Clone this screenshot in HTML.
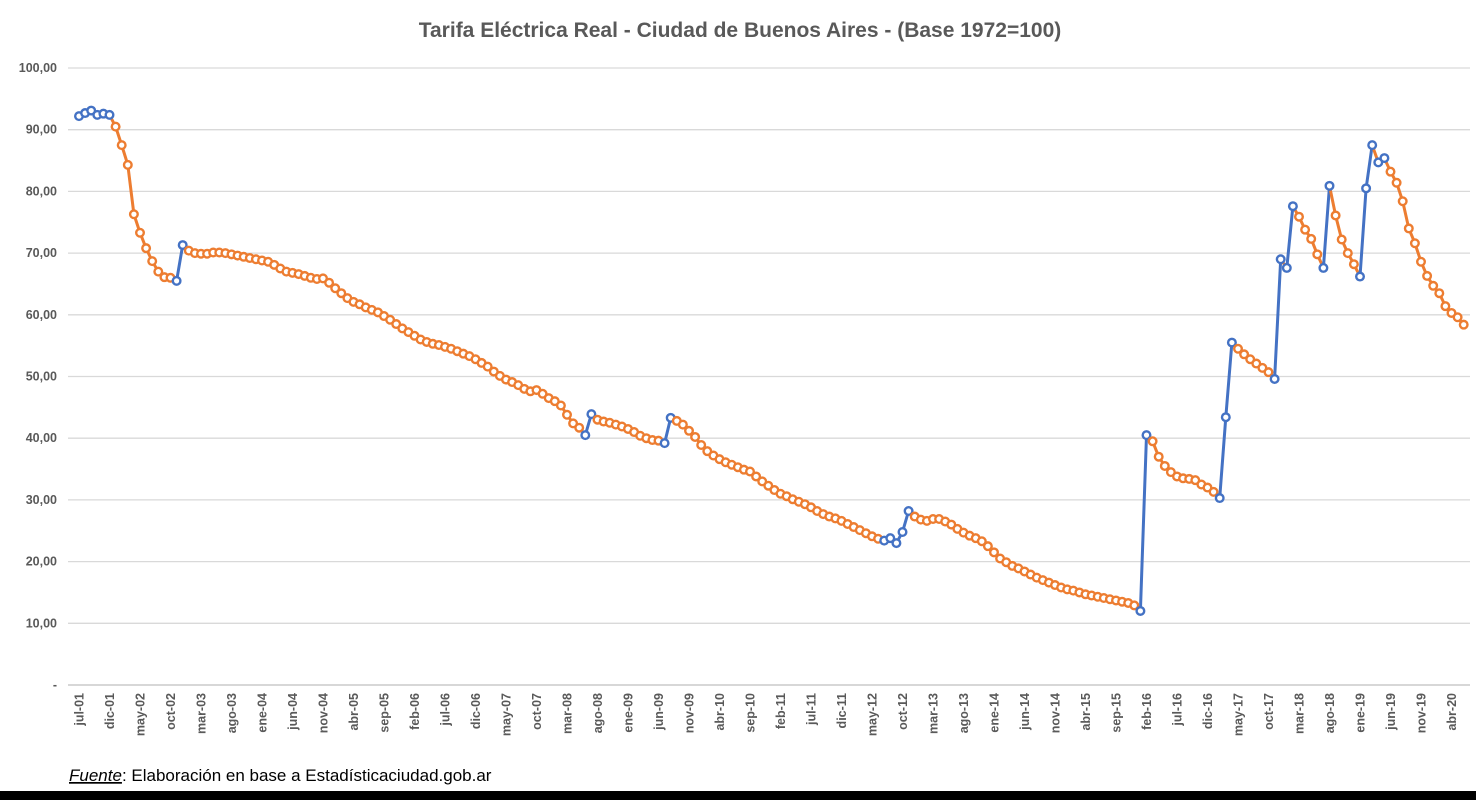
<!DOCTYPE html>
<html><head><meta charset="utf-8"><style>
body{margin:0;background:#fff;width:1476px;height:800px;overflow:hidden;font-family:"Liberation Sans",sans-serif}
svg{display:block}
</style></head><body>
<svg id="chart" width="1476" height="800" viewBox="0 0 1476 800">
<rect width="1476" height="800" fill="#fff"/>
<text x="740" y="37" text-anchor="middle" font-size="21" font-weight="bold" fill="#595959">Tarifa Eléctrica Real - Ciudad de Buenos Aires - (Base 1972=100)</text>
<g id="grid"></g>
<g id="yaxis"></g>
<g id="xaxis"></g>
<g id="lines"></g>
<g id="marks"></g>
<text x="69" y="781" font-size="17" fill="#000"><tspan font-style="italic" text-decoration="underline">Fuente</tspan>: Elaboración en base a Estadísticaciudad.gob.ar</text>
<rect x="0" y="791" width="1476" height="9" fill="#000"/>
</svg>
<script>
const yTicks=[0,10,20,30,40,50,60,70,80,90,100];
const yTickLabels=["-","10,00","20,00","30,00","40,00","50,00","60,00","70,00","80,00","90,00","100,00"];
const monthNames=["ene","feb","mar","abr","may","jun","jul","ago","sep","oct","nov","dic"];
const startYear=2001, startMonth=6;
const values=[
92.2,92.7,93.1,92.4,92.6,92.4,
90.5,87.5,84.3,76.3,73.3,70.8,68.7,67.0,66.1,66.0,65.5,71.3,
70.4,70.0,69.9,69.9,70.1,70.1,70.0,69.8,69.6,69.4,69.2,69.0,
68.8,68.6,68.1,67.5,67.0,66.8,66.6,66.3,66.0,65.8,65.9,65.2,
64.3,63.5,62.7,62.1,61.7,61.2,60.8,60.4,59.8,59.2,58.5,57.8,
57.2,56.6,56.0,55.6,55.3,55.1,54.8,54.5,54.1,53.7,53.3,52.8,
52.2,51.6,50.8,50.1,49.5,49.1,48.6,48.0,47.6,47.8,47.2,46.5,
46.0,45.3,43.8,42.4,41.7,40.5,43.9,43.0,42.7,42.5,42.2,41.9,
41.5,41.0,40.4,40.0,39.7,39.6,39.2,43.3,42.8,42.2,41.2,40.2,
38.9,37.9,37.2,36.6,36.1,35.7,35.3,34.9,34.6,33.8,33.0,32.3,
31.6,31.0,30.6,30.1,29.7,29.3,28.8,28.2,27.7,27.3,27.0,26.6,
26.1,25.6,25.1,24.6,24.1,23.7,23.4,
23.8,23.0,24.8,28.2,
27.3,26.8,26.6,26.9,26.9,26.5,26.0,25.3,24.7,24.2,23.8,23.3,22.5,
21.5,20.5,19.9,19.3,18.9,18.4,17.9,17.4,17.0,16.6,16.2,15.8,15.5,15.3,15.0,
14.7,14.5,14.3,14.1,13.9,13.7,13.5,13.3,12.9,12.0,40.5,
39.5,37.0,35.5,34.5,33.8,33.5,33.4,33.2,32.5,32.0,31.3,30.3,
43.4,55.5,54.5,53.6,52.8,52.1,51.4,50.7,49.6,
69.0,67.6,77.6,75.9,73.8,72.3,69.8,67.6,80.9,76.1,72.2,70.0,68.2,66.2,
80.5,87.5,84.7,85.4,83.2,81.4,78.4,74.0,71.6,68.6,66.3,64.7,63.5,61.4,60.3,59.6,58.4
];
const NS="http://www.w3.org/2000/svg";
const X0=79, DX=6.1, Y0=685, Y100=68, GX0=68, GX1=1470;
const xs=i=>X0+i*DX;
const ys=v=>Y0-(v/100)*(Y0-Y100);
const BLUE="#4472C4", ORANGE="#ED7D31";
function mk(tag,attrs){const e=document.createElementNS(NS,tag);for(const k in attrs)e.setAttribute(k,attrs[k]);return e;}
const grid=document.getElementById('grid'), yaxis=document.getElementById('yaxis');
yTicks.forEach((t,k)=>{
  const l=mk('line',{x1:GX0,x2:GX1,y1:ys(t),y2:ys(t),stroke:t===0?'#bfbfbf':'#d9d9d9','stroke-width':1.3});
  
  
  grid.appendChild(l);
  const tx=mk('text',{x:57,y:ys(t)+4,'text-anchor':'end','font-size':12.5,'font-weight':'bold',fill:'#595959'});
  
  
  tx.textContent=yTickLabels[k];yaxis.appendChild(tx);
});
const xaxis=document.getElementById('xaxis');
for(let i=0;i<values.length;i+=5){
  const m=(startMonth+i)%12, yr=startYear+Math.floor((startMonth+i)/12);
  const lab=monthNames[m]+"-"+String(yr%100).padStart(2,'0');
  const x=xs(i)+4.5, y=693;
  const tx=mk('text',{x:x,y:y,transform:`rotate(-90 ${x} ${y})`,'text-anchor':'end','font-size':12.5,'font-weight':'bold',fill:'#595959'});
  
  
  tx.textContent=lab;xaxis.appendChild(tx);
}
const isUp=i=>(i<5)||(values[i+1]-values[i]>0.3);
const lines=document.getElementById('lines'), marks=document.getElementById('marks');
for(let i=0;i<values.length-1;i++){
  const up=isUp(i);
  const s=mk('line',{x1:xs(i),y1:ys(values[i]),x2:xs(i+1),y2:ys(values[i+1]),stroke:up?BLUE:ORANGE,'stroke-width':3,'stroke-linecap':'round'});
  
  
  lines.appendChild(s);
}
values.forEach((v,i)=>{
  const inUp=i>0&&isUp(i-1), outUp=i<values.length-1&&isUp(i);
  const c=mk('circle',{cx:xs(i),cy:ys(v),r:3.8,fill:'#fff',stroke:(inUp||outUp||i<6)?BLUE:ORANGE,'stroke-width':2.4});
  
  
  marks.appendChild(c);
});
</script>
</body></html>
